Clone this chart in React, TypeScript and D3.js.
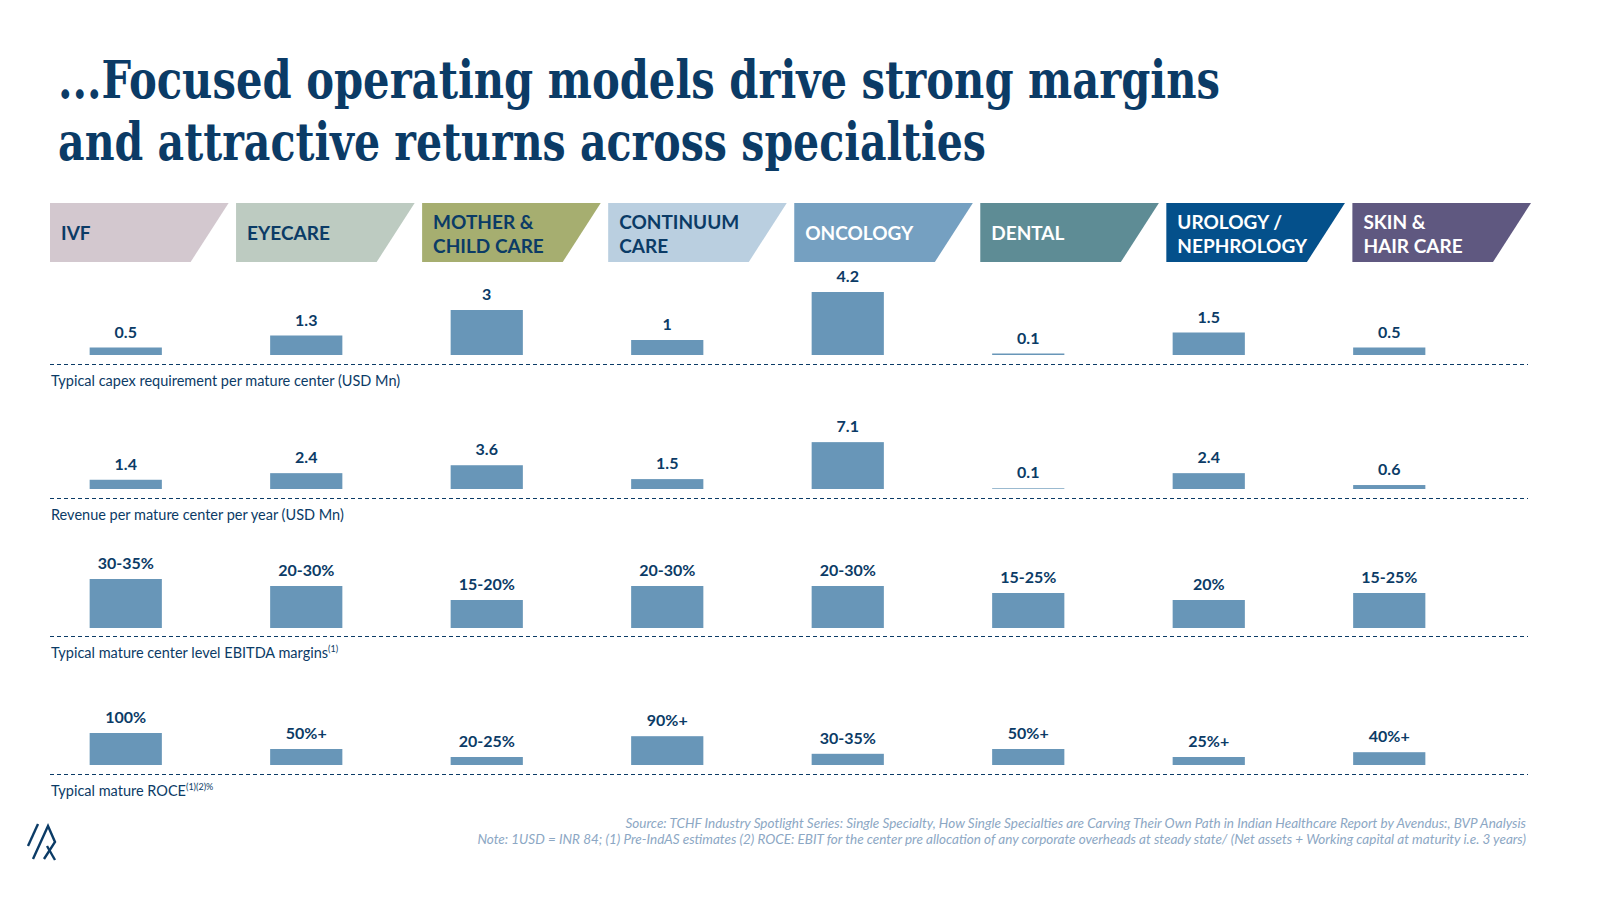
import React, { useEffect, useRef } from 'react';
import * as d3 from 'd3';

const categories = ['IVF', 'EYECARE', 'MOTHER & CHILD CARE', 'CONTINUUM CARE', 'ONCOLOGY', 'DENTAL', 'UROLOGY / NEPHROLOGY', 'SKIN & HAIR CARE'];
const headerLines = [['IVF'], ['EYECARE'], ['MOTHER &', 'CHILD CARE'], ['CONTINUUM', 'CARE'], ['ONCOLOGY'], ['DENTAL'], ['UROLOGY /', 'NEPHROLOGY'], ['SKIN &', 'HAIR CARE']];
const headerFill = ['#d3c8cf', '#bdcbc1', '#a6ae70', '#bacfe0', '#75a0c1', '#5e8c95', '#04508b', '#5f5880'];
const headerInk = ['#0b3b66', '#0b3b66', '#0b3b66', '#0b3b66', '#ffffff', '#ffffff', '#ffffff', '#ffffff'];

const capex = [0.5, 1.3, 3, 1, 4.2, 0.1, 1.5, 0.5];
const capexLabels = ['0.5', '1.3', '3', '1', '4.2', '0.1', '1.5', '0.5'];
const revenue = [1.4, 2.4, 3.6, 1.5, 7.1, 0.1, 2.4, 0.6];
const revenueLabels = ['1.4', '2.4', '3.6', '1.5', '7.1', '0.1', '2.4', '0.6'];
const ebitda = [35, 30, 20, 30, 30, 25, 20, 25];
const ebitdaLabels = ['30-35%', '20-30%', '15-20%', '20-30%', '20-30%', '15-25%', '20%', '15-25%'];
const roce = [100, 50, 25, 90, 35, 50, 25, 40];
const roceLabels = ['100%', '50%+', '20-25%', '90%+', '30-35%', '50%+', '25%+', '40%+'];

const NAVY = '#0b3b66';
const BAR = '#6896b8';
const SANS = 'Lato, "Open Sans", sans-serif';

const App: React.FC = () => {
  const svgRef = useRef<SVGSVGElement>(null);

  useEffect(() => {
    document.body.style.margin = '0';
    if (!svgRef.current) return;
    const svg = d3.select(svgRef.current);
    svg.selectAll('*').remove();

    svg.append('rect').attr('width', 1600).attr('height', 900).attr('fill', '#fff');

    // title
    const title = svg.append('g').attr('fill', NAVY)
      .attr('font-family', '"DejaVu Serif", "Liberation Serif", serif')
      .attr('font-weight', 'bold');
    title.append('text').attr('x', 58).attr('y', 98).attr('font-size', 52)
      .attr('textLength', 1162).attr('lengthAdjust', 'spacingAndGlyphs')
      .text('...Focused operating models drive strong margins');
    title.append('text').attr('x', 58).attr('y', 160).attr('font-size', 52)
      .attr('textLength', 928).attr('lengthAdjust', 'spacingAndGlyphs')
      .text('and attractive returns across specialties');

    // headers
    const hx = d3.scaleBand<string>().domain(categories).range([50, 1531]).paddingInner(0.04).paddingOuter(0);
    const slant = 38;
    const hTop = 203, hBot = 262;
    categories.forEach((c, i) => {
      const x0 = hx(c)!;
      const x1 = x0 + hx.bandwidth();
      const g = svg.append('g');
      g.append('path')
        .attr('d', `M${x0},${hTop}L${x1},${hTop}L${x1 - slant},${hBot}L${x0},${hBot}Z`)
        .attr('fill', headerFill[i]);
      const lines = headerLines[i];
      const ys = lines.length === 1 ? [240] : [229, 253];
      lines.forEach((l, j) => {
        g.append('text').attr('x', x0 + 11).attr('y', ys[j])
          .attr('font-family', SANS).attr('font-weight', 'bold').attr('font-size', 19)
          .attr('fill', headerInk[i]).text(l);
      });
    });

    // bar rows
    const bx = d3.scaleBand<string>().domain(categories).range([35.5, 1479.5]).paddingInner(0.6).paddingOuter(0.3);
    const rows = [
      { values: capex, labels: capexLabels, base: 355, perUnit: 15, line: 364, title: 'Typical capex requirement per mature center (USD Mn)', sup: '' },
      { values: revenue, labels: revenueLabels, base: 489, perUnit: 6.6, line: 498, title: 'Revenue per mature center per year (USD Mn)', sup: '' },
      { values: ebitda, labels: ebitdaLabels, base: 628, perUnit: 1.4, line: 636, title: 'Typical mature center level EBITDA margins', sup: '(1)' },
      { values: roce, labels: roceLabels, base: 765, perUnit: 0.32, line: 774, title: 'Typical mature ROCE', sup: '(1)(2)%' },
    ];

    rows.forEach((r) => {
      const maxV = d3.max(r.values)!;
      const y = d3.scaleLinear().domain([0, maxV]).range([r.base, r.base - maxV * r.perUnit]);
      const g = svg.append('g');
      g.selectAll('rect.bar').data(r.values).join('rect')
        .attr('class', 'bar')
        .attr('x', (_, i) => bx(categories[i])!)
        .attr('width', bx.bandwidth())
        .attr('y', (d) => y(d))
        .attr('height', (d) => r.base - y(d))
        .attr('fill', BAR);
      g.selectAll('text.val').data(r.values).join('text')
        .attr('class', 'val')
        .attr('x', (_, i) => bx(categories[i])! + bx.bandwidth() / 2)
        .attr('y', (d) => y(d) - 10)
        .attr('text-anchor', 'middle')
        .attr('font-family', SANS).attr('font-weight', 'bold').attr('font-size', 16)
        .attr('fill', NAVY)
        .text((_, i) => r.labels[i]);
      g.append('line').attr('x1', 50).attr('x2', 1528).attr('y1', r.line + 0.5).attr('y2', r.line + 0.5)
        .attr('stroke', NAVY).attr('stroke-width', 1.2).attr('stroke-dasharray', '4,3');
      const t = g.append('text').attr('x', 51).attr('y', r.line + 22)
        .attr('font-family', SANS).attr('font-size', 14.5).attr('fill', NAVY).text(r.title);
      if (r.sup) {
        t.append('tspan').attr('font-size', 9).attr('dy', -6).text(r.sup);
      }
    });

    // footer
    const foot = svg.append('g').attr('font-family', SANS).attr('font-style', 'italic')
      .attr('font-size', 13.5).attr('fill', '#8ca7c4').attr('text-anchor', 'end');
    foot.append('text').attr('x', 1526).attr('y', 828)
      .text('Source: TCHF Industry Spotlight Series: Single Specialty, How Single Specialties are Carving Their Own Path in Indian Healthcare Report by Avendus:, BVP Analysis');
    foot.append('text').attr('x', 1526).attr('y', 844)
      .text('Note: 1USD = INR 84; (1) Pre-IndAS estimates (2) ROCE: EBIT for the center pre allocation of any corporate overheads at steady state/ (Net assets + Working capital at maturity i.e. 3 years)');

    // logo
    const logo = svg.append('g').attr('stroke', NAVY).attr('stroke-width', 2.4).attr('fill', 'none')
      .attr('stroke-linejoin', 'miter');
    logo.append('path').attr('d', 'M28,846L38,824');
    logo.append('path').attr('d', 'M33,859L48,826L55,842L44,859');
    logo.append('path').attr('d', 'M47,846L55,860');
  }, []);

  return (
    <div style={{ width: 1600, height: 900 }}>
      <svg ref={svgRef} width={1600} height={900} style={{ display: 'block' }}></svg>
    </div>
  );
};

export default App;
